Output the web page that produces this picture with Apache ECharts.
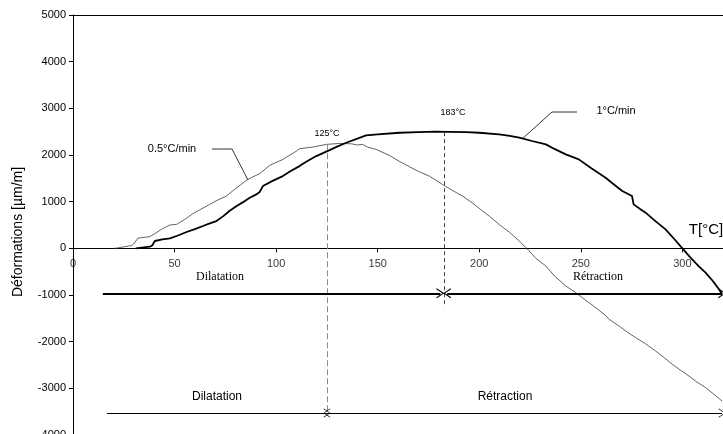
<!DOCTYPE html>
<html>
<head>
<meta charset="utf-8">
<script src="https://cdn.jsdelivr.net/npm/echarts@6/dist/echarts.min.js"></script>
<style>html,body{margin:0;padding:0;background:#fff;}#c{width:723px;height:434px;}</style>
</head>
<body>
<div id="c"></div>
<script>
// 0.5°C/min curve: temperature [°C] and strain [µm/m]
const slowT = [20,21.5,28.8,30,32,37.8,41,44,47.7,51,55,59,63,67.3,71,75.5,80,85.3,88,91.9,96.8,103.3,110,111.5,118,124.7,131.2,137,140,142.6,143.5,145,149.2,155.8,160,165.6,170,175.4,181.9,186,191.8,197,201.6,205,209.8,215,219.7,224.6,228,232.8,237,242.6,247.5,252,257.3,262,263.9,268.8,273,277,282,286.8,291,295,299,303.2,307,311.4,315,319.5];
const slowV = [0,5,60,100,220,250,335,420,500,514,620,743,840,942,1030,1120,1280,1456,1520,1600,1777,1905,2084,2135,2170,2227,2248,2240,2215,2227,2200,2170,2120,1991,1880,1749,1650,1548,1370,1260,1120,960,800,690,510,340,156,-58,-220,-379,-590,-807,-949,-1100,-1270,-1430,-1520,-1664,-1800,-1912,-2050,-2199,-2340,-2484,-2610,-2734,-2860,-2983,-3110,-3270];
// 1°C/min curve
const fastT = [31,37.8,39,40.3,44,47.7,52,55.9,60,64,67,70.6,74,77,80,83.7,87,90,91.9,93.5,98,103.3,107,111.5,115,119.8,126.3,130,134.5,140,144.3,150,160.7,170,178.7,185,193.5,200,209.8,215,219.7,226,232.8,237,242.6,249,255,262.2,266,270.4,275.2,276,279,281.9,286,291.7,296,300,304,308,311.4,315,318,319.5];
const fastV = [0,35,60,157,190,214,280,350,410,478,530,585,690,800,890,990,1085,1150,1206,1334,1440,1548,1650,1762,1860,1977,2105,2180,2263,2350,2420,2440,2477,2490,2499,2497,2491,2477,2441,2410,2370,2300,2227,2130,2013,1906,1720,1514,1380,1227,1120,942,850,764,610,407,200,0,-200,-380,-520,-700,-878,-985];
// axis ticks
const xTicks = [0,50,100,150,200,250,300];
const yTicks = [-4000,-3000,-2000,-1000,0,1000,2000,3000,4000,5000];
// annotation values
const tPeak1 = 125, tPeak2 = 183;
const peak1V = 2230, peak2V = 2490;
const upperArrowV = -965, lowerArrowV = -3530;
const upperStartT = 14.7, lowerStartT = 16.7, endT = 319.5;

const slowData = slowT.map((t,i)=>[t, slowV[i]]);
const fastData = fastT.map((t,i)=>[t, fastV[i]]);
const xTickData = xTicks.map(t=>[t, 0]);

const chev = 'path://M10,0 L20,14 L18,15 L10,3.5 L2,15 L0,14 Z';
const chevThin = 'path://M10,0 L20,14 L19,15 L10,2 L1,15 L0,14 Z';

const chart = echarts.init(document.getElementById('c'), null, {renderer:'canvas'});
chart.setOption({
  animation:false,
  backgroundColor:'#fff',
  grid:{left:73, right:0, top:15, bottom:-1, containLabel:false, outerBoundsMode:'none'},
  xAxis:[{
    type:'value', min:0, max:320, interval:50,
    axisLine:{onZero:true, lineStyle:{color:'#000', width:1}},
    axisTick:{show:true, length:4, inside:false, lineStyle:{color:'#000'}},
    axisLabel:{show:false},
    splitLine:{show:false}
  },{
    type:'value', min:0, max:320, position:'top',
    axisLine:{show:true, onZero:false, lineStyle:{color:'#000', width:1}},
    axisTick:{show:false}, axisLabel:{show:false}, splitLine:{show:false}
  }],
  yAxis:{
    type:'value', min:yTicks[0], max:yTicks[yTicks.length-1], interval:1000,
    axisLine:{show:true, onZero:false, lineStyle:{color:'#000', width:1}},
    axisTick:{show:true, length:4, lineStyle:{color:'#000'}},
    axisLabel:{color:'#000', fontFamily:'Liberation Sans, Arial', fontSize:11, margin:7,
      formatter:v => yTicks.indexOf(v) >= 0 ? String(v) : ''},
    splitLine:{show:false}
  },
  series:[
    {
      name:'xTickLabels', type:'scatter', data:xTickData, symbolSize:0, silent:true, z:5,
      label:{show:true, position:'bottom', distance:10, color:'#000',
        fontFamily:'Liberation Sans, Arial', fontSize:11, formatter:p => String(p.value[0])}
    },
    {
      name:'0.5°C/min', type:'line', data:slowData, showSymbol:false, symbol:'none',
      lineStyle:{color:'#3a3a3a', width:0.8}, z:3,
      markLine:{
        silent:true, animation:false,
        label:{show:false},
        data:[
          [{coord:[tPeak1, peak1V], symbol:'none', lineStyle:{color:'#8a8a8a', type:[6,3], width:1}},
           {coord:[tPeak1, lowerArrowV], symbol:'none'}],
          [{coord:[tPeak2, peak2V], symbol:'none', lineStyle:{color:'#444', type:[4,3], width:1}},
           {coord:[tPeak2, -1263], symbol:'none'}]
        ]
      }
    },
    {
      name:'1°C/min', type:'line', data:fastData, showSymbol:false, symbol:'none',
      lineStyle:{color:'#000', width:1.8}, z:4,
      markLine:{
        silent:true, animation:false,
        label:{show:false},
        data:[
          [{coord:[upperStartT, upperArrowV], symbol:'none', lineStyle:{color:'#000', type:'solid', width:2}},
           {coord:[180.8, upperArrowV], symbol:chev, symbolSize:[10,8]}],
          [{coord:[184.2, upperArrowV], symbol:chev, symbolSize:[10,8], lineStyle:{color:'#000', type:'solid', width:2}},
           {coord:[endT, upperArrowV], symbol:chev, symbolSize:[10,8]}],
          [{coord:[lowerStartT, lowerArrowV], symbol:'none', lineStyle:{color:'#000', type:'solid', width:1}},
           {coord:[tPeak1, lowerArrowV], symbol:chevThin, symbolSize:[9,7]}],
          [{coord:[tPeak1, lowerArrowV], symbol:chevThin, symbolSize:[9,7], lineStyle:{color:'#000', type:'solid', width:1}},
           {coord:[endT, lowerArrowV], symbol:chevThin, symbolSize:[9,7]}]
        ]
      }
    }
  ],
  graphic:[
    {type:'text', x:18, y:232, rotation:Math.PI/2, style:{text:'Déformations [µm/m]', font:'14px "Liberation Sans", Arial', fill:'#000', align:'center', verticalAlign:'middle'}},
    {type:'text', x:706, y:230, style:{text:'T[°C]', font:'15px "Liberation Sans", Arial', fill:'#000', align:'center', verticalAlign:'middle'}},
    {type:'text', x:327, y:134, style:{text:'125°C', font:'9px "Liberation Sans", Arial', fill:'#000', align:'center', verticalAlign:'middle'}},
    {type:'text', x:453, y:113, style:{text:'183°C', font:'9px "Liberation Sans", Arial', fill:'#000', align:'center', verticalAlign:'middle'}},
    {type:'text', x:172, y:149, style:{text:'0.5°C/min', font:'11px "Liberation Sans", Arial', fill:'#000', align:'center', verticalAlign:'middle'}},
    {type:'text', x:616, y:111, style:{text:'1°C/min', font:'11px "Liberation Sans", Arial', fill:'#000', align:'center', verticalAlign:'middle'}},
    {type:'polyline', shape:{points:[[212,149],[232,149],[248,180]]}, style:{stroke:'#000', lineWidth:0.8, fill:null}},
    {type:'polyline', shape:{points:[[577,112],[552,112],[522,139]]}, style:{stroke:'#000', lineWidth:0.8, fill:null}},
    {type:'text', x:220, y:277, style:{text:'Dilatation', font:'12px "Liberation Serif", "Times New Roman", serif', fill:'#000', align:'center', verticalAlign:'middle'}},
    {type:'text', x:598, y:277, style:{text:'Rétraction', font:'12px "Liberation Serif", "Times New Roman", serif', fill:'#000', align:'center', verticalAlign:'middle'}},
    {type:'text', x:217, y:397, style:{text:'Dilatation', font:'12px "Liberation Sans", Arial', fill:'#000', align:'center', verticalAlign:'middle'}},
    {type:'text', x:505, y:397, style:{text:'Rétraction', font:'12px "Liberation Sans", Arial', fill:'#000', align:'center', verticalAlign:'middle'}}
  ]
});
</script>
</body>
</html>
